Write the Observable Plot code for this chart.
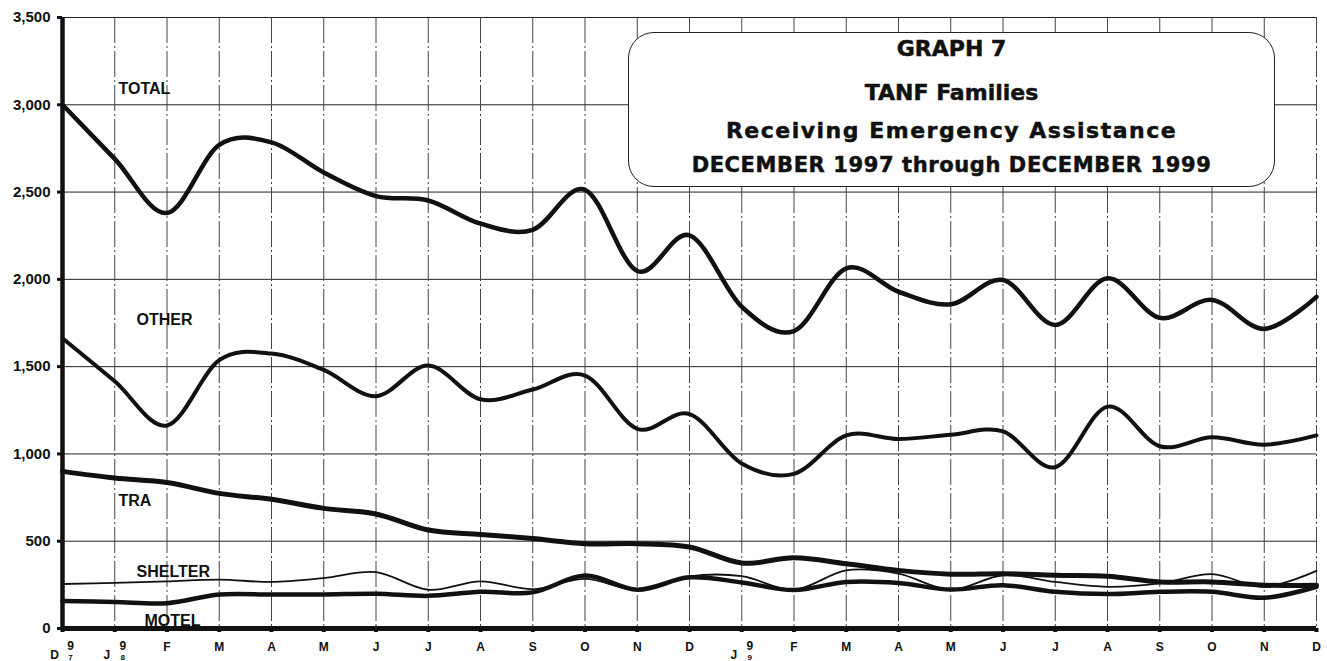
<!DOCTYPE html>
<html>
<head>
<meta charset="utf-8">
<script src="https://cdn.jsdelivr.net/npm/d3@7"></script>
<script src="https://cdn.jsdelivr.net/npm/@observablehq/plot@0.6"></script>
<style>
  body { margin: 0; background: #fff; }
  #wrap { position: relative; width: 1327px; height: 661px; overflow: hidden; background: #fff; }
  #chart svg { display: block; }
  #title {
    position: absolute; left: 628px; top: 32px; width: 645px; height: 153px;
    border: 1.5px solid #222; border-radius: 26px; background: #fff;
    font-family: "DejaVu Sans", sans-serif; font-weight: bold; color: #111;
    -webkit-text-stroke: 0.5px #111;
  }
  #title div { position: absolute; left: 0; right: 0; text-align: center; white-space: nowrap; line-height: 1; }
</style>
</head>
<body>
<div id="wrap">
  <div id="chart"></div>
  <div id="title">
    <div style="top:5px;font-size:22px;">GRAPH 7</div>
    <div style="top:49px;font-size:22px;">TANF Families</div>
    <div style="top:87px;font-size:22px;letter-spacing:1.5px;">Receiving Emergency Assistance</div>
    <div style="top:122px;font-size:21px;letter-spacing:0.6px;">DECEMBER 1997 through DECEMBER 1999</div>
  </div>
</div>
<script>
// Months: December 1997 through December 1999
const months = ["D","J","F","M","A","M","J","J","A","S","O","N","D","J","F","M","A","M","J","J","A","S","O","N","D"];
// Year digits shown beside the first month of each year (D97, J98, J99)
const yearMarks = [{i: 0, yy: "97"}, {i: 1, yy: "98"}, {i: 13, yy: "99"}];

const total   = [3000, 2690, 2380, 2770, 2785, 2612, 2477, 2452, 2319, 2284, 2513, 2048, 2252, 1843, 1704, 2063, 1929, 1857, 1996, 1739, 2006, 1780, 1882, 1716, 1900];
const other   = [1663, 1416, 1163, 1537, 1575, 1481, 1331, 1506, 1313, 1369, 1449, 1144, 1228, 945, 886, 1106, 1085, 1110, 1129, 924, 1271, 1044, 1095, 1053, 1106];
const tra     = [900, 862, 836, 774, 740, 688, 656, 564, 539, 515, 486, 486, 467, 375, 405, 371, 333, 311, 314, 305, 299, 267, 267, 248, 248];
const shelter = [255, 261, 270, 280, 267, 289, 323, 222, 270, 226, 284, 222, 299, 300, 222, 333, 314, 222, 305, 267, 239, 258, 311, 239, 330];
const motel   = [158, 152, 145, 195, 195, 195, 199, 187, 210, 207, 303, 222, 293, 264, 220, 267, 261, 223, 248, 210, 197, 210, 210, 176, 239];

const seriesNames = ["TOTAL", "OTHER", "TRA", "SHELTER", "MOTEL"];
const seriesValues = [total, other, tra, shelter, motel];
const yTicks = [0, 500, 1000, 1500, 2000, 2500, 3000, 3500];

// styling per series
const lineWidths = [4.5, 4, 5, 1.8, 4.5];
const labelOffsets = [[56, -16], [74, -18], [56, 29], [74, -12], [82, 20]];

const idx = d3.range(months.length);
const font = "'Liberation Sans', Arial, sans-serif";
const isYearStart = i => yearMarks.some(m => m.i === i);

const marks = [
  Plot.ruleY(yTicks.filter(d => d > 0), {y: d => d, stroke: "#222", strokeWidth: 1}),
  Plot.ruleX(idx.slice(1), {x: d => d, stroke: "#444", strokeWidth: 1, strokeDasharray: "26,3,2,3"}),
  ...seriesNames.map((s, k) => Plot.line(seriesValues[k], {
    x: (d, i) => i, y: d => d, curve: "cardinal", stroke: "#111",
    strokeWidth: lineWidths[k], strokeLinejoin: "round", strokeLinecap: "round"
  })),
  ...seriesNames.map((s, k) => Plot.text([{i: 0, v: seriesValues[k][0], name: s}], {
    x: "i", y: "v", text: "name", dx: labelOffsets[k][0], dy: labelOffsets[k][1],
    textAnchor: "start", fontSize: 16, fontWeight: "bold", fill: "#111", fontFamily: font
  })),
  // y axis: ticks + labels
  Plot.axisY({ticks: yTicks, tickFormat: () => "", tickSize: 5, strokeWidth: 3, label: null}),
  Plot.text(yTicks, {x: () => 0, y: d => d, text: d => d3.format(",")(d), dx: -12, textAnchor: "end",
    fontSize: 15, fontWeight: "bold", fill: "#111", fontFamily: font}),
  // x axis: square tick dots + month labels
  Plot.axisX({ticks: idx, tickFormat: () => "", tickSize: 4, strokeWidth: 4, label: null}),
  Plot.text(idx.filter(i => !isYearStart(i)), {x: d => d, y: () => 0, text: i => months[i], dy: 19,
    fontSize: 12, fontWeight: "bold", fill: "#111", fontFamily: font}),
  Plot.text(yearMarks, {x: "i", y: () => 0, text: d => months[d.i], dx: -8, dy: 27, fontSize: 12, fontWeight: "bold", fill: "#111", fontFamily: font}),
  Plot.text(yearMarks, {x: "i", y: () => 0, text: d => d.yy[0], dx: 8, dy: 18, fontSize: 12, fontWeight: "bold", fill: "#111", fontFamily: font}),
  Plot.text(yearMarks, {x: "i", y: () => 0, text: d => d.yy[1], dx: 8, dy: 28.5, fontSize: 8, fontWeight: "bold", fill: "#111", fontFamily: font}),
  Plot.ruleX([0], {x: d => d, stroke: "#111", strokeWidth: 4.5}),
  Plot.ruleY([0], {y: d => d, stroke: "#111", strokeWidth: 5})
];

const chart = Plot.plot({
  width: 1327,
  height: 661,
  marginLeft: 62,
  marginRight: 11,
  marginTop: 17,
  marginBottom: 33,
  style: {fontFamily: font, background: "#fff", color: "#111", overflow: "visible"},
  x: {domain: [0, 24]},
  y: {domain: [0, 3500]},
  marks
});
document.getElementById("chart").appendChild(chart);
</script>
</body>
</html>
